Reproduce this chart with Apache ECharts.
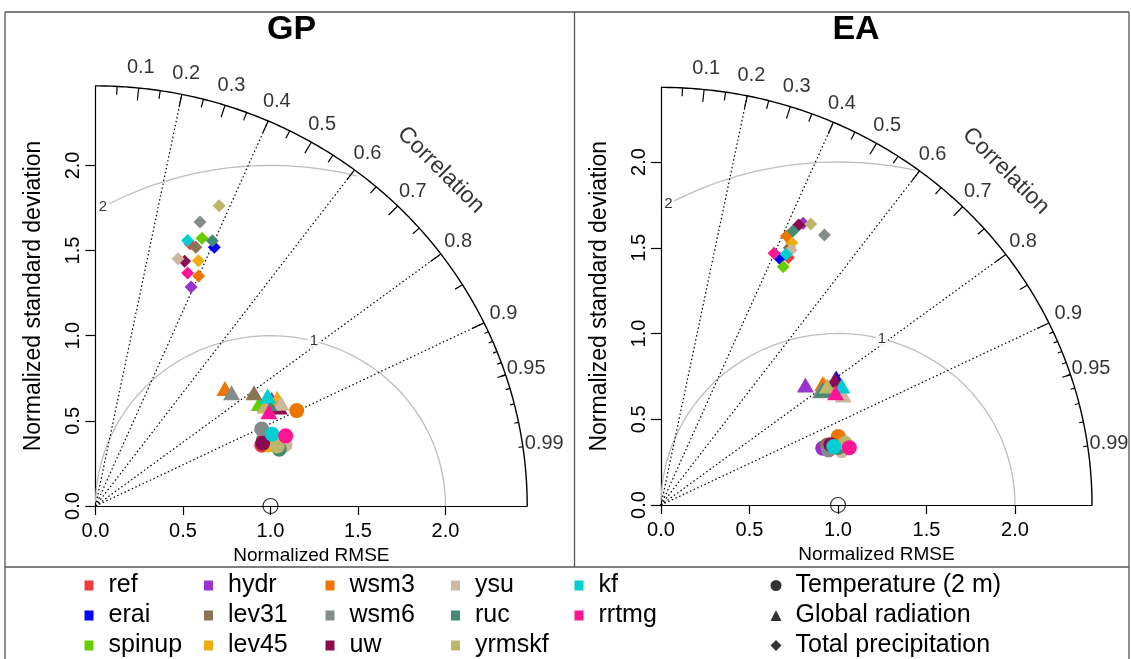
<!DOCTYPE html>
<html><head><meta charset="utf-8">
<script src="https://cdn.jsdelivr.net/npm/echarts@6/dist/echarts.min.js"></script>
<style>html,body{margin:0;padding:0;background:#fff}#c{width:1131px;height:659px}</style>
</head><body><div id="c"></div>
<script>
// ---------------- data ----------------
const models = ['ref','erai','spinup','hydr','lev31','lev45','wsm3','wsm6','uw','ysu','ruc','yrmskf','kf','rrtmg'];
const modelColors = ['#F03C3C','#0000FF','#66CD00','#9A32CD','#8B7355','#EEAD0E','#EE7600','#838B8B','#8B0A50','#CDB79E','#458B74','#BDB76B','#00CED1','#FF1493'];
const panels = ['GP','EA'];
const variables = ['Temperature (2 m)','Global radiation','Total precipitation'];
const corrTickLabels = [0.1,0.2,0.3,0.4,0.5,0.6,0.7,0.8,0.9,0.95,0.99];
const corrLines = [0.2,0.4,0.6,0.8,0.9];
const rmseLevels = [1,2];
const sdTicks = [0,0.5,1,1.5,2];
const refSd = 1;
const maxSd = [2.467, 2.435];

// normalized standard deviation and correlation, order = models
const gpTempSd  = [1.015,1.038,1.042,1.041,1.035,1.050,1.279,1.052,1.024,1.141,1.102,1.097,1.094,1.162];
const gpTempCor = [0.936,0.934,0.931,0.937,0.927,0.940,0.899,0.903,0.933,0.949,0.953,0.947,0.923,0.935];
const gpRadSd   = [1.141,1.154,1.113,1.186,1.124,1.216,1.012,1.023,1.200,1.220,1.158,1.133,1.177,1.135];
const gpRadCor  = [0.850,0.849,0.841,0.849,0.806,0.854,0.731,0.760,0.875,0.869,0.855,0.855,0.836,0.873];
const gpPrecSd  = [1.632,1.664,1.686,1.397,1.624,1.555,1.473,1.772,1.525,1.526,1.695,1.899,1.645,1.466];
const gpPrecCor = [0.331,0.408,0.361,0.391,0.353,0.378,0.400,0.337,0.334,0.309,0.394,0.372,0.320,0.359];
const eaTempSd  = [1.031,1.030,1.041,0.972,1.002,1.053,1.078,1.000,1.022,1.069,1.055,1.101,1.034,1.115];
const eaTempCor = [0.941,0.942,0.942,0.940,0.937,0.940,0.929,0.947,0.939,0.955,0.948,0.945,0.944,0.954];
const eaRadSd   = [1.168,1.236,1.174,1.075,1.144,1.160,1.155,1.121,1.223,1.213,1.134,1.168,1.235,1.184];
const eaRadCor  = [0.813,0.801,0.809,0.759,0.804,0.797,0.791,0.804,0.803,0.849,0.806,0.804,0.827,0.833];
const eaPrecSd  = [1.613,1.587,1.552,1.829,1.666,1.698,1.722,1.825,1.809,1.659,1.763,1.844,1.624,1.601];
const eaPrecCor = [0.446,0.423,0.445,0.439,0.435,0.435,0.412,0.506,0.430,0.443,0.423,0.459,0.435,0.399];

// ---------------- build ----------------
const FONT = '"Liberation Sans", Arial, Helvetica, sans-serif';
const panelData = [
  [[gpTempSd,gpTempCor],[gpRadSd,gpRadCor],[gpPrecSd,gpPrecCor]],
  [[eaTempSd,eaTempCor],[eaRadSd,eaRadCor],[eaPrecSd,eaPrecCor]]
];
const shapeSymbols = ['circle','triangle','diamond'];
const shapeSizes = [15,[17,15],13];

const grids = [
  {left:95.5, top:85.9, width:431.7, height:420.1},
  {left:661, top:87.4, width:431, height:417.6}
];

function polar(r, c){ return [r*c, r*Math.sqrt(Math.max(0,1-c*c))]; }

const xAxes = [], yAxes = [], series = [];
panels.forEach((p, i) => {
  const M = maxSd[i];
  xAxes.push({
    gridIndex:i, type:'value', min:0, max:M,
    axisLine:{show:true, onZero:false, lineStyle:{color:'#000', width:1.2}},
    axisTick:{show:true, length:9, customValues:sdTicks, lineStyle:{color:'#000', width:1.2}},
    axisLabel:{show:true, customValues:sdTicks, fontSize:20, color:'#000', margin:15, fontFamily:FONT,
      formatter:v=>v.toFixed(1)},
    splitLine:{show:false},
    name:'Normalized RMSE', nameLocation:'middle', nameGap:37,
    nameTextStyle:{fontSize:19, color:'#000', fontFamily:FONT}
  });
  yAxes.push({
    gridIndex:i, type:'value', min:0, max:M,
    axisLine:{show:true, onZero:false, lineStyle:{color:'#000', width:1.2}},
    axisTick:{show:true, length:10, customValues:sdTicks, lineStyle:{color:'#000', width:1.2}},
    axisLabel:{show:true, customValues:sdTicks, fontSize:20, color:'#000', margin:12, rotate:90, fontFamily:FONT,
      formatter:v=>v.toFixed(1)},
    splitLine:{show:false},
    name:'Normalized standard deviation', nameLocation:'middle', nameGap:50,
    nameTextStyle:{fontSize:23, color:'#000', fontFamily:FONT}
  });

  const base = {xAxisIndex:i, yAxisIndex:i, silent:true, animation:false};

  // RMSE arcs (plotrix style)
  rmseLevels.forEach((g, gi) => {
    const xs = [], ys = [];
    for (let k = 0; k * 0.03 <= Math.PI; k++) { const t = k*0.03; xs.push(Math.cos(t)*g + refSd); ys.push(Math.sin(t)*g); }
    let end = xs.findIndex(x => x < 0); end = end < 0 ? xs.length - 1 : end - 1;
    let start = 0; xs.forEach((x, k) => { if (x*x + ys[k]*ys[k] > M*M) start = k + 1; });
    const pts = []; for (let k = start; k <= end; k++) pts.push([xs[k], ys[k]]);
    series.push(Object.assign({type:'line', data:pts, showSymbol:false, symbol:'none', clip:false, z:1,
      lineStyle:{color:'#BEBEBE', width:1.3}}, base));
    const lp = [45,70][gi] - 1;
    series.push(Object.assign({type:'scatter', clip:false, z:3, symbolSize:1, itemStyle:{color:'rgba(0,0,0,0)'},
      data:[{value:[xs[lp], ys[lp]], name:String(g)}],
      label:{show:true, position:'inside', formatter:'{b}', fontSize:15, color:'#000', fontFamily:FONT,
        backgroundColor:'#fff', padding:[0,2]}}, base));
  });

  // correlation rays
  series.push(Object.assign({type:'lines', coordinateSystem:'cartesian2d', z:2, clip:false,
    data: corrLines.map(c => ({coords:[[0,0], polar(M, c)]})),
    lineStyle:{color:'#000', width:1.2, type:[1.5,2.5], opacity:1}}, base));

  // outer arc
  const arc = [];
  for (let k = 0; k <= 180; k++) { const t = k/180*Math.PI/2; arc.push([M*Math.cos(t), M*Math.sin(t)]); }
  series.push(Object.assign({type:'line', data:arc, showSymbol:false, symbol:'none', clip:false, z:2,
    lineStyle:{color:'#000', width:1.4}}, base));

  // tick marks on the correlation arc
  const ticks = [];
  for (let c = 1; c <= 9; c++) ticks.push({coords:[polar(M, c/10), polar(M*0.97, c/10)]});
  for (let c = 0; c < 10; c++) { const v = 0.05 + c*0.1; ticks.push({coords:[polar(M, v), polar(M*0.98, v)]}); }
  for (let c = 91; c <= 99; c++) ticks.push({coords:[polar(M, c/100), polar(M*0.99, c/100)]});
  series.push(Object.assign({type:'lines', coordinateSystem:'cartesian2d', z:2, clip:false, data:ticks,
    lineStyle:{color:'#000', width:1.2, opacity:1}}, base));

  // correlation labels
  series.push(Object.assign({type:'scatter', clip:false, z:3, symbolSize:1, itemStyle:{color:'rgba(0,0,0,0)'},
    data: corrTickLabels.map(c => ({value:polar(M*1.05, c), name:String(c)})),
    label:{show:true, position:'inside', formatter:'{b}', fontSize:20, color:'#000', fontFamily:FONT}}, base));
  series.push(Object.assign({type:'scatter', clip:false, z:3, symbolSize:1, itemStyle:{color:'rgba(0,0,0,0)'},
    data:[{value:[M*0.8, M*0.8], name:'Correlation'}],
    label:{show:true, position:'inside', formatter:'{b}', fontSize:23, color:'#000', rotate:-45, fontFamily:FONT}}, base));

  // reference point
  series.push(Object.assign({type:'scatter', clip:false, z:4, symbol:'circle', symbolSize:15,
    data:[[refSd, 0]], itemStyle:{color:'rgba(0,0,0,0)', borderColor:'#000', borderWidth:1.2}}, base));

  // model points
  models.forEach((m, mi) => {
    const data = panelData[i].map((pair, vi) => ({
      value: polar(pair[0][mi], pair[1][mi]),
      symbol: shapeSymbols[vi], symbolSize: shapeSizes[vi]
    }));
    series.push(Object.assign({type:'scatter', name:m, clip:false, z:5, data:data,
      itemStyle:{color:modelColors[mi], opacity:1}}, base, {silent:false}));
  });
});
// legend-only series for the variable shapes
variables.forEach((v) => {
  series.push({type:'scatter', name:v, xAxisIndex:0, yAxisIndex:0, data:[], itemStyle:{color:'#000'}});
});

const legendCols = [[0,1,2],[3,4,5],[6,7,8],[9,10,11],[12,13]];
const legendLeft = [84.5, 204, 325.5, 451, 574.5];
const legends = legendCols.map((col, ci) => ({
  orient:'vertical', left:legendLeft[ci], top:573, padding:0, itemGap:5,
  itemWidth:9, itemHeight:10, selectedMode:false, icon:'rect',
  data: col.map(k => models[k]),
  textStyle:{fontSize:25, color:'#000', fontFamily:FONT, padding:[0,0,0,10]}
}));
legends.push({
  orient:'vertical', left:770.5, top:573, padding:0, itemGap:5,
  itemWidth:11, itemHeight:11, selectedMode:false,
  data: variables.map((v, k) => ({name:v, icon:shapeSymbols[k]})),
  textStyle:{fontSize:25, color:'#000', fontFamily:FONT, padding:[0,0,0,9]}
});

const borderStyle = {stroke:'#555', lineWidth:1.3};
const option = {
  animation:false,
  backgroundColor:'#fff',
  textStyle:{fontFamily:FONT},
  title: panels.map((p, i) => ({
    text:p, left:[291.5, 856][i], top:13, padding:0, textAlign:'center',
    textStyle:{fontSize:34, fontWeight:'bold', color:'#000', fontFamily:FONT}
  })),
  grid: grids,
  xAxis: xAxes,
  yAxis: yAxes,
  legend: legends,
  series: series,
  graphic: [
    {type:'line', shape:{x1:5, y1:12, x2:1129, y2:12}, style:borderStyle, silent:true},
    {type:'line', shape:{x1:5, y1:12, x2:5, y2:659}, style:borderStyle, silent:true},
    {type:'line', shape:{x1:1129, y1:12, x2:1129, y2:659}, style:borderStyle, silent:true},
    {type:'line', shape:{x1:574.5, y1:12, x2:574.5, y2:567}, style:borderStyle, silent:true},
    {type:'line', shape:{x1:5, y1:567, x2:1129, y2:567}, style:borderStyle, silent:true}
  ]
};
const chart = echarts.init(document.getElementById('c'), null, {renderer:'canvas'});
chart.setOption(option);
</script>
</body></html>
